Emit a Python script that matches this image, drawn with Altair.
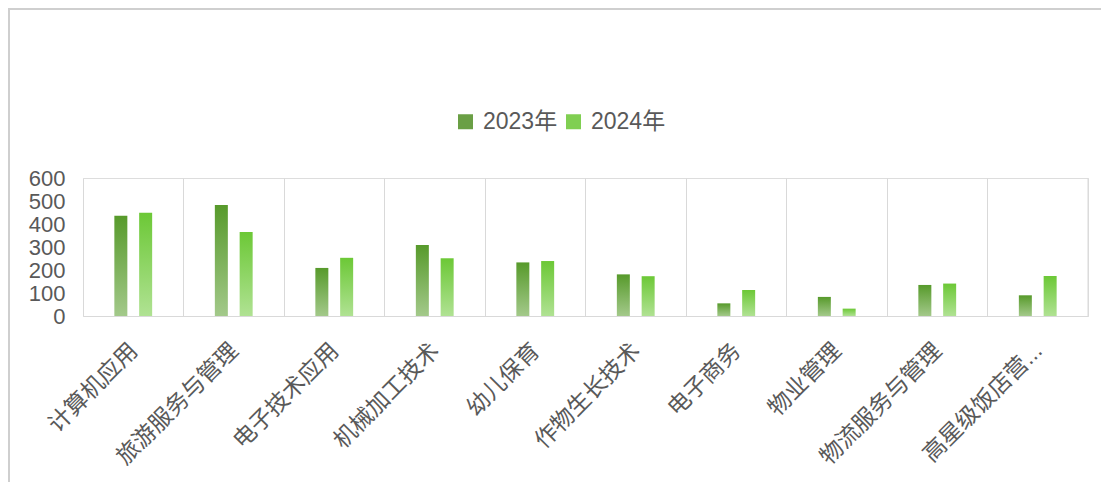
import altair as alt
import pandas as pd

categories = ["计算机应用", "旅游服务与管理", "电子技术应用", "机械加工技术", "幼儿保育",
              "作物生长技术", "电子商务", "物业管理", "物流服务与管理", "高星级饭店营..."]
series = ["2023年", "2024年"]
values_2023 = [436, 483, 209, 309, 233, 181, 55, 83, 135, 90]
values_2024 = [449, 365, 253, 251, 239, 173, 113, 32, 141, 174]
y_ticks = [0, 100, 200, 300, 400, 500, 600]

rows = []
for c, a, b in zip(categories, values_2023, values_2024):
    rows.append({"cat": c, "series": series[0], "value": a})
    rows.append({"cat": c, "series": series[1], "value": b})
df = pd.DataFrame(rows)

W, H = 1005, 138
FONT = "Liberation Sans, Noto Sans CJK SC"
TXT = "#595959"

g2023 = alt.Gradient(gradient="linear", x1=0, x2=0, y1=0, y2=1,
                     stops=[alt.GradientStop(color="#579a2b", offset=0),
                            alt.GradientStop(color="#a3c98a", offset=1)])
g2024 = alt.Gradient(gradient="linear", x1=0, x2=0, y1=0, y2=1,
                     stops=[alt.GradientStop(color="#6cc836", offset=0),
                            alt.GradientStop(color="#b0e293", offset=1)])

x_enc = alt.X("cat:N", sort=categories, title=None,
              scale=alt.Scale(paddingInner=0, paddingOuter=0),
              axis=alt.Axis(labelAngle=-45, labelFontSize=23, labelColor=TXT, labelFont=FONT,
                            labelPadding=23, labelOffset=-7, ticks=False,
                            domainColor="#d9d9d9", domainWidth=1,
                            grid=True, gridColor="#d9d9d9", gridWidth=1, bandPosition=0,
                            labelLimit=300))
y_enc = alt.Y("value:Q", title=None,
              scale=alt.Scale(domain=[0, 600], nice=False),
              axis=alt.Axis(values=y_ticks, labelFontSize=22, labelColor=TXT, labelFont=FONT,
                            ticks=False, domain=False, grid=False, labelPadding=18))
color_enc = alt.Color("series:N", sort=series,
                      scale=alt.Scale(domain=series, range=["#6a9f45", "#80cf52"]),
                      legend=alt.Legend(title=None, orient="none", legendX=371, legendY=-68,
                                        direction="horizontal", symbolType="square",
                                        symbolSize=225, symbolStrokeWidth=0, symbolOpacity=1,
                                        labelFontSize=23, labelColor=TXT, labelFont=FONT,
                                        labelOffset=6, columnPadding=4))

base = alt.Chart(df)
legend_layer = base.mark_square(opacity=0).encode(x=x_enc, y=y_enc, color=color_enc)
bars23 = base.transform_filter(alt.datum.series == series[0]).mark_bar(
    width=13, xOffset=-12.4
).encode(x=x_enc, y=y_enc, fill=alt.value(g2023))
bars24 = base.transform_filter(alt.datum.series == series[1]).mark_bar(
    width=13, xOffset=12.4
).encode(x=x_enc, y=y_enc, fill=alt.value(g2024))

edge = alt.Chart(pd.DataFrame({"cat": [categories[-1]]})).mark_rule(
    color="#d9d9d9", strokeWidth=1
).encode(x=alt.X("cat:N", sort=categories, bandPosition=1))

frame = alt.Chart(pd.DataFrame({"cat": [categories[0]]})).mark_rect(
    fill="transparent", stroke="#cfcfcf", strokeWidth=2
).encode(x=alt.value(-74), x2=alt.value(W + 40), y=alt.value(-169), y2=alt.value(H + 200))

chart = alt.layer(frame, legend_layer, bars23, bars24, edge).properties(
    width=W, height=H,
    autosize=alt.AutoSizeParams(type="none"),
    padding={"left": 75, "top": 170, "right": 13, "bottom": 166},
).configure_view(stroke=None).configure(background="white")

chart.save("out.html", embed_options={"renderer": "svg", "actions": False})
